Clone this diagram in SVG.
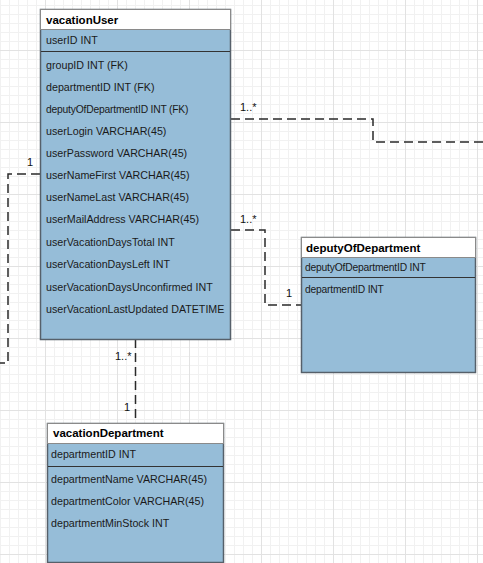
<svg xmlns="http://www.w3.org/2000/svg" width="483" height="563" viewBox="0 0 483 563">
<defs>
<pattern id="minor" x="0" y="5" width="9" height="9" patternUnits="userSpaceOnUse">
<path d="M0.5 0V9M0 0.5H9" stroke="#f1f1f1" stroke-width="1" fill="none"/>
</pattern>
<pattern id="major" x="45" y="50" width="72" height="72" patternUnits="userSpaceOnUse">
<path d="M0.5 0V72M0 0.5H72" stroke="#e2e2e2" stroke-width="1" fill="none"/>
</pattern>
</defs>
<style>
.body{fill:#96bdd8;stroke:#56606a;stroke-width:1.5}
.head{fill:#ffffff;stroke:#8a8a8a;stroke-width:1}
.sep{stroke:#333;stroke-width:1}
.t{font-family:"Liberation Sans",Arial,sans-serif;font-size:10.7px;fill:#1a1a1a}
.s{font-family:"Liberation Sans",Arial,sans-serif;font-size:10.3px;fill:#1a1a1a;letter-spacing:-0.2px}
.h{font-family:"Liberation Sans",Arial,sans-serif;font-size:11.5px;font-weight:bold;fill:#000}
.lbl{font-family:"Liberation Sans",sans-serif;font-size:11px;fill:#111}
.c{fill:none;stroke:#2a2a2a;stroke-width:1.5;stroke-dasharray:9 5}
</style>
<rect width="483" height="563" fill="#ffffff"/>
<rect width="483" height="563" fill="url(#minor)"/>
<rect width="483" height="563" fill="url(#major)"/>

<g id="connectors">
<path class="c" d="M231 119H373V142H483"/>
<path class="c" d="M231 230H265V305H301"/>
<path class="c" d="M40 174H8V363H0"/>
<path class="c" d="M135.5 339V423"/>
<text class="lbl" x="240" y="111">1..*</text>
<text class="lbl" x="240" y="223">1..*</text>
<text class="lbl" x="286" y="297">1</text>
<text class="lbl" x="27" y="166">1</text>
<text class="lbl" x="115" y="360">1..*</text>
<text class="lbl" x="124" y="411">1</text>
</g>

<g id="vacationUser">
<rect class="body" x="40.5" y="9.5" width="190" height="330"/>
<rect class="head" x="40.5" y="9.5" width="190" height="20"/>
<text class="h" x="46" y="24">vacationUser</text>
<line class="sep" x1="41" y1="51.5" x2="230" y2="51.5"/>
<text class="t" x="46" y="44">userID INT</text>
<text class="t" x="46" y="69">groupID INT (FK)</text>
<text class="t" x="46" y="91">departmentID INT (FK)</text>
<text class="s" x="46" y="113">deputyOfDepartmentID INT (FK)</text>
<text class="t" x="46" y="135">userLogin VARCHAR(45)</text>
<text class="t" x="46" y="157">userPassword VARCHAR(45)</text>
<text class="t" x="46" y="179">userNameFirst VARCHAR(45)</text>
<text class="t" x="46" y="201">userNameLast VARCHAR(45)</text>
<text class="t" x="46" y="223">userMailAddress VARCHAR(45)</text>
<text class="t" x="46" y="246">userVacationDaysTotal INT</text>
<text class="t" x="46" y="268">userVacationDaysLeft INT</text>
<text class="t" x="46" y="291">userVacationDaysUnconfirmed INT</text>
<text class="t" x="46" y="313">userVacationLastUpdated DATETIME</text>
</g>

<g id="deputyOfDepartment">
<rect class="body" x="301.5" y="237.5" width="174" height="135"/>
<rect class="head" x="301.5" y="237.5" width="174" height="20"/>
<text class="h" x="306" y="252">deputyOfDepartment</text>
<line class="sep" x1="302" y1="277.5" x2="475" y2="277.5"/>
<text class="s" x="305" y="271">deputyOfDepartmentID INT</text>
<text class="s" x="305" y="293">departmentID INT</text>
</g>

<g id="vacationDepartment">
<rect class="body" x="47.5" y="423.5" width="176" height="139"/>
<rect class="head" x="47.5" y="423.5" width="176" height="20"/>
<text class="h" x="53" y="437">vacationDepartment</text>
<line class="sep" x1="48" y1="466.5" x2="223" y2="466.5"/>
<text class="t" x="51" y="458">departmentID INT</text>
<text class="t" x="51" y="483">departmentName VARCHAR(45)</text>
<text class="t" x="51" y="505">departmentColor VARCHAR(45)</text>
<text class="t" x="51" y="527">departmentMinStock INT</text>
</g>
</svg>
